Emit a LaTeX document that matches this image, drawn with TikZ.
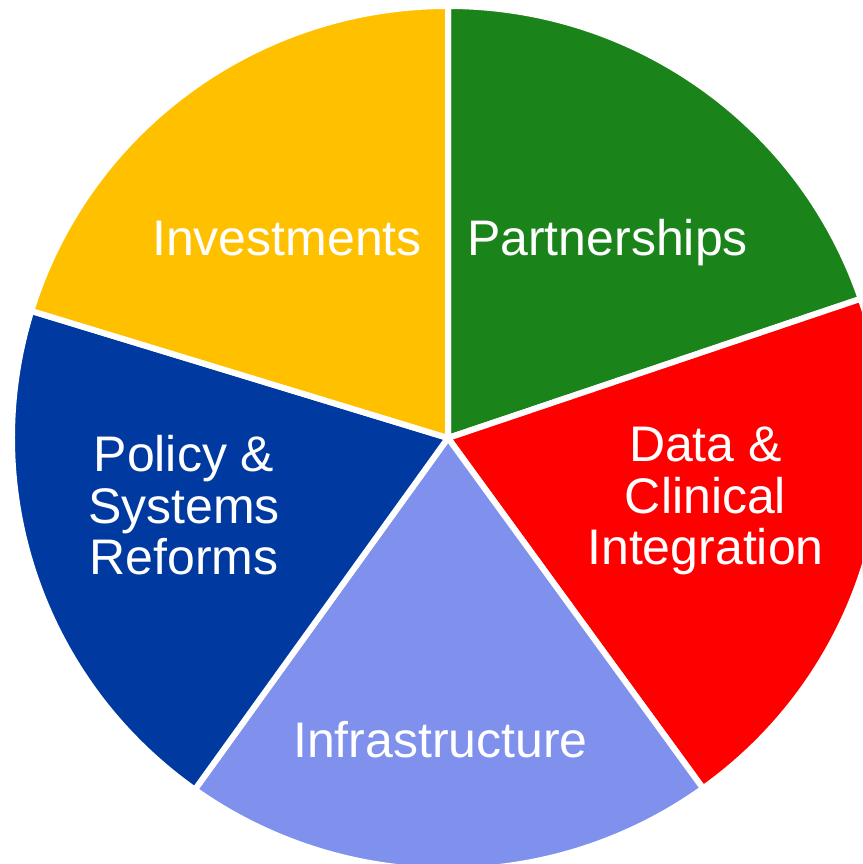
\documentclass[tikz,border=0pt]{standalone}
\usepackage{fontspec}
\setmainfont{Liberation Sans}
\definecolor{cgreen}{HTML}{1A8319}
\definecolor{cred}{HTML}{FF0000}
\definecolor{clight}{HTML}{7F91EC}
\definecolor{cblue}{HTML}{003AA0}
\definecolor{cyellow}{HTML}{FFC000}
\begin{document}
\begin{tikzpicture}[x=1pt,y=1pt,
  slice/.style={draw=white,line width=6pt,line join=miter},
  lbl/.style={text=white,font=\fontsize{50}{51.5}\selectfont,align=center,anchor=base,inner sep=0pt}]
\useasboundingbox (0,0) rectangle (862,864);
\clip (0,0) rectangle (862,864);
\coordinate (C) at (448,426);
\filldraw[slice,fill=cgreen] (C) -- ++(90:436 and 432) arc[start angle=90,end angle=18.8,x radius=436,y radius=432] -- cycle;
\filldraw[slice,fill=cred] (C) -- ++(18.8:436 and 432) arc[start angle=18.8,end angle=-54.2,x radius=436,y radius=432] -- cycle;
\filldraw[slice,fill=clight] (C) -- ++(-54.2:436 and 432) arc[start angle=-54.2,end angle=-125.5,x radius=436,y radius=432] -- cycle;
\filldraw[slice,fill=cblue] (C) -- ++(-125.5:436 and 432) arc[start angle=-125.5,end angle=-197.1,x radius=436,y radius=432] -- cycle;
\filldraw[slice,fill=cyellow] (C) -- ++(162.9:436 and 432) arc[start angle=162.9,end angle=90,x radius=436,y radius=432] -- cycle;
\node[lbl] (inv) at (287,608) {Investments};
\node[lbl] (par) at (607.5,608) {Partnerships};
\node[lbl] (dat) at (705.5,299) {Data \&\\Clinical\\Integration};
\node[lbl] (pol) at (184,289) {Policy \&\\Systems\\Reforms};
\node[lbl] (inf) at (440.5,106.5) {Infrastructure};
\end{tikzpicture}
\end{document}
